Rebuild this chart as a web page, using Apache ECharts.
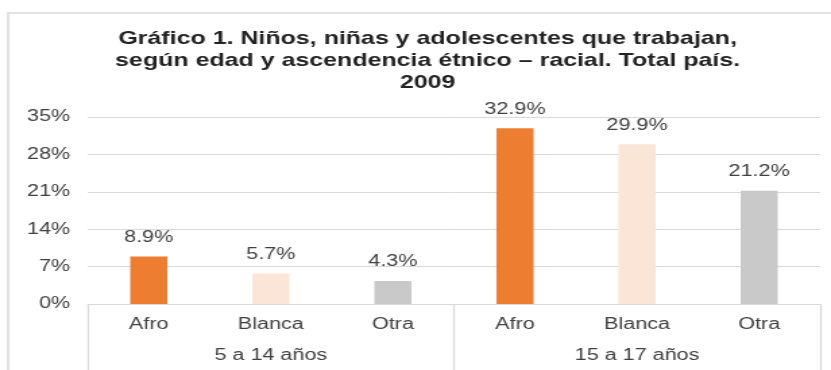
<!DOCTYPE html>
<html>
<head>
<meta charset="utf-8">
<script src="https://cdn.jsdelivr.net/npm/echarts@6/dist/echarts.min.js"></script>
<style>
  html, body { margin: 0; padding: 0; background: #fff; overflow: hidden; }
  /* la imagen original está estirada en horizontal: se dibuja más angosta y se escala */
  #chart { width: 616px; height: 370px; transform: scaleX(1.349); transform-origin: 0 0; }
</style>
</head>
<body>
<div id="chart"></div>
<script>
// datos
const categorias = ['Afro', 'Blanca', 'Otra', 'Afro', 'Blanca', 'Otra'];
const grupos = ['5 a 14 años', '15 a 17 años'];
const valores = [8.9, 5.7, 4.3, 32.9, 29.9, 21.2];
const ticksY = [0, 7, 14, 21, 28, 35];

const colores = { Afro: '#ED7D31', Blanca: '#FBE5D6', Otra: '#C9C9C9' };
const gris = '#D9D9D9';
const texto = '#404040';
const fuente = '"Liberation Sans", Arial, sans-serif';

const chart = echarts.init(document.getElementById('chart'));

chart.setOption({
  animation: false,
  textStyle: { fontFamily: fuente },
  title: {
    text: 'Gráfico 1. Niños, niñas y adolescentes que trabajan,\nsegún edad y ascendencia étnico – racial. Total país.\n2009',
    left: 312,
    top: 23,
    textAlign: 'center',
    textStyle: { fontSize: 18.5, fontWeight: 'bold', color: '#222', lineHeight: 22, fontFamily: fuente }
  },
  graphic: [{
    type: 'rect',
    shape: { x: 6, y: 13, width: 700, height: 400 },
    style: { fill: 'none', stroke: gris, lineWidth: 1.5 },
    silent: true,
    z: -1
  }],
  grid: { left: 65, right: 8, top: 117, bottom: 66 },
  xAxis: [
    {
      type: 'category',
      data: categorias,
      position: 'bottom',
      axisLine: { lineStyle: { color: gris } },
      axisTick: { show: false },
      axisLabel: { color: texto, fontSize: 16, margin: 13 }
    },
    {
      type: 'category',
      data: grupos,
      position: 'bottom',
      offset: 0,
      axisLine: { show: false },
      axisTick: { show: true, length: 70, lineStyle: { color: gris, width: 1.3 } },
      axisLabel: { color: texto, fontSize: 16, margin: 44 }
    }
  ],
  yAxis: {
    type: 'value',
    min: ticksY[0],
    max: ticksY[ticksY.length - 1],
    interval: 7,
    axisLine: { show: false },
    axisTick: { show: false },
    splitLine: { lineStyle: { color: gris } },
    axisLabel: { color: texto, fontSize: 16, margin: 13, formatter: '{value}%' }
  },
  series: [{
    type: 'bar',
    xAxisIndex: 0,
    data: valores,
    barWidth: 27.5,
    itemStyle: {
      color: (p) => colores[p.name]
    },
    label: {
      show: true,
      position: 'top',
      distance: 11,
      color: texto,
      fontSize: 16,
      formatter: (p) => p.value.toFixed(1) + '%'
    }
  }]
});
</script>
</body>
</html>
